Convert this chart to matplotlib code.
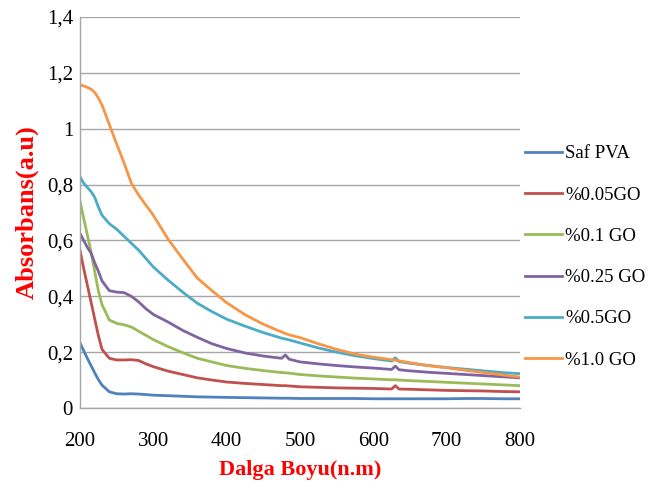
import matplotlib
matplotlib.use("Agg")
import matplotlib.pyplot as plt
from matplotlib.ticker import FuncFormatter

# Wavelength grid (nm)
wavelength = [200, 205, 210, 215, 220, 225, 230, 240, 250, 260, 270, 280, 290, 300,
              320, 340, 360, 380, 400, 425, 450, 475, 480, 485, 500, 525, 550, 575,
              600, 625, 630, 635, 650, 675, 700, 725, 750, 775, 800]

saf_pva = [0.233, 0.205, 0.178, 0.152, 0.126, 0.102, 0.082, 0.058, 0.051, 0.050, 0.051, 0.050,
           0.048, 0.046, 0.044, 0.042, 0.040, 0.039, 0.038, 0.037, 0.036, 0.035, 0.035, 0.035,
           0.034, 0.034, 0.034, 0.034, 0.033, 0.033, 0.033, 0.033, 0.033, 0.033, 0.033, 0.034,
           0.034, 0.033, 0.033]

go_005 = [0.565, 0.50, 0.44, 0.38, 0.32, 0.26, 0.21, 0.178, 0.172, 0.172, 0.173, 0.170,
          0.158, 0.148, 0.132, 0.120, 0.108, 0.100, 0.093, 0.088, 0.084, 0.080, 0.080, 0.079,
          0.076, 0.074, 0.072, 0.071, 0.070, 0.068, 0.080, 0.068, 0.067, 0.065, 0.063, 0.062,
          0.061, 0.059, 0.058]

go_01 = [0.74, 0.68, 0.62, 0.56, 0.49, 0.42, 0.37, 0.315, 0.303, 0.298, 0.290, 0.275,
         0.260, 0.245, 0.220, 0.198, 0.178, 0.165, 0.152, 0.142, 0.134, 0.127, 0.126, 0.125,
         0.120, 0.115, 0.111, 0.107, 0.104, 0.101, 0.101, 0.100, 0.098, 0.095, 0.092, 0.089,
         0.086, 0.083, 0.080]

go_025 = [0.625, 0.60, 0.575, 0.555, 0.52, 0.49, 0.455, 0.42, 0.415, 0.413, 0.400, 0.380,
          0.355, 0.335, 0.308, 0.278, 0.253, 0.230, 0.213, 0.197, 0.186, 0.178, 0.190, 0.175,
          0.165, 0.158, 0.152, 0.147, 0.143, 0.138, 0.150, 0.137, 0.133, 0.128, 0.124, 0.120,
          0.116, 0.112, 0.108]

go_05 = [0.828, 0.805, 0.79, 0.775, 0.755, 0.72, 0.69, 0.66, 0.64, 0.615, 0.59, 0.565,
         0.535, 0.505, 0.458, 0.415, 0.375, 0.345, 0.318, 0.293, 0.270, 0.250, 0.247, 0.244,
         0.233, 0.215, 0.200, 0.187, 0.177, 0.168, 0.180, 0.166, 0.160, 0.152, 0.145, 0.139,
         0.133, 0.127, 0.123]

go_10 = [1.157, 1.153, 1.148, 1.142, 1.13, 1.11, 1.085, 1.015, 0.945, 0.878, 0.805, 0.762,
         0.726, 0.69, 0.605, 0.534, 0.465, 0.42, 0.377, 0.334, 0.300, 0.272, 0.267, 0.262,
         0.252, 0.230, 0.210, 0.193, 0.182, 0.173, 0.171, 0.169, 0.162, 0.152, 0.144, 0.135,
         0.127, 0.119, 0.111]

series = [
    ("Saf PVA", saf_pva, "#4F81BD"),
    ("%0.05GO", go_005, "#C0504D"),
    ("%0.1 GO", go_01, "#9BBB59"),
    ("%0.25 GO", go_025, "#8064A2"),
    ("%0.5GO", go_05, "#4BACC6"),
    ("%1.0 GO", go_10, "#F79646"),
]

x_ticks = [200, 300, 400, 500, 600, 700, 800]
y_ticks = [0, 0.2, 0.4, 0.6, 0.8, 1.0, 1.2, 1.4]

plt.rcParams["font.family"] = ["Liberation Serif", "DejaVu Serif"]

fig = plt.figure(figsize=(6.49, 4.96), dpi=100)
ax = fig.add_axes([80 / 649, 88 / 496, 440 / 649, 391 / 496])

for label, vals, color in series:
    ax.plot(wavelength, vals, color=color, lw=2.0, label=label, solid_joinstyle="round")

ax.set_xlim(200, 800)
ax.set_ylim(0, 1.4)
ax.set_xticks(x_ticks)
ax.set_yticks(y_ticks)

def comma_fmt(v, pos):
    s = f"{v:.1f}".rstrip("0").rstrip(".")
    return s.replace(".", ",")

ax.yaxis.set_major_formatter(FuncFormatter(comma_fmt))
ax.grid(axis="y", color="#a6a6a6", lw=1.0)
ax.set_axisbelow(True)
for side in ("top", "right"):
    ax.spines[side].set_visible(False)
for side in ("left", "bottom"):
    ax.spines[side].set_color("#a6a6a6")
    ax.spines[side].set_linewidth(1.0)

ax.tick_params(axis="both", length=0, labelsize=15, colors="black")
ax.tick_params(axis="x", pad=17)
ax.tick_params(axis="y", pad=5)

ax.set_xlabel("Dalga Boyu(n.m)", color="red", fontweight="bold", fontsize=16, labelpad=7)
ax.set_ylabel("Absorbans(a.u)", color="red", fontweight="bold", fontsize=19, labelpad=6)

handles, labels = ax.get_legend_handles_labels()
fig.legend(handles, labels, loc="center left", bbox_to_anchor=(519 / 649, 0.482),
           frameon=False, fontsize=13.5, handlelength=2.0, handletextpad=0.15,
           labelspacing=1.29, borderaxespad=0.0, borderpad=0.3)

fig.savefig("out.png", dpi=100)
